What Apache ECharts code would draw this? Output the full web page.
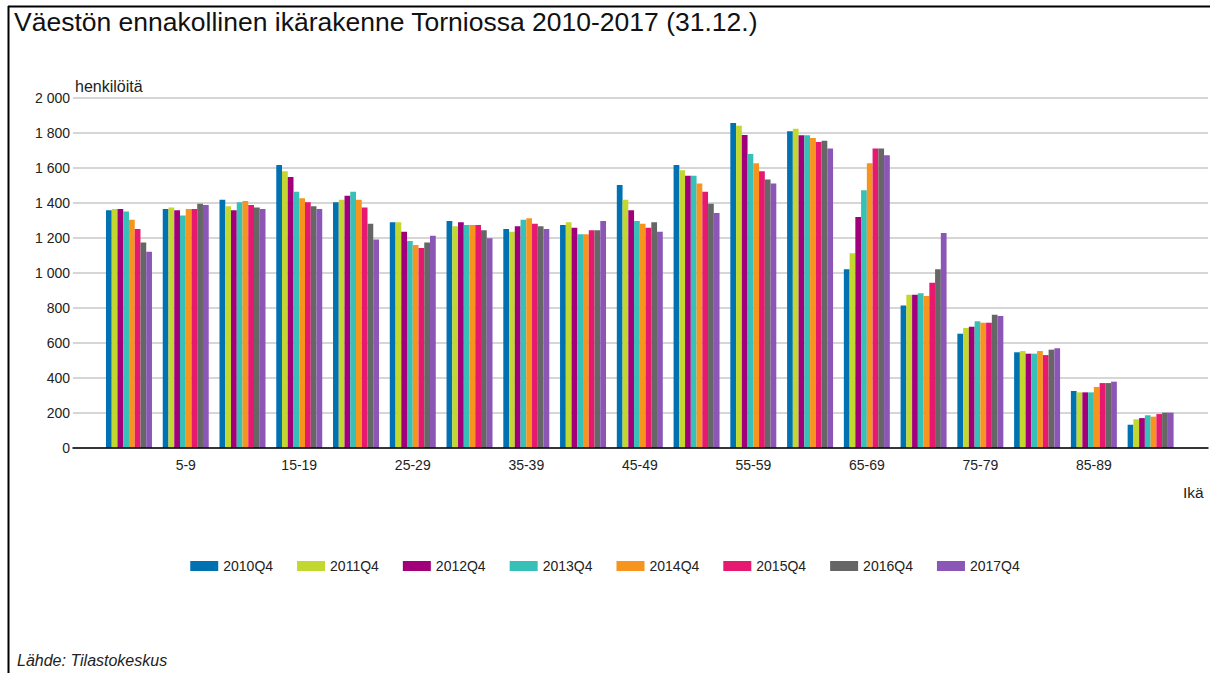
<!DOCTYPE html>
<html><head><meta charset="utf-8">
<script src="https://cdn.jsdelivr.net/npm/echarts@6/dist/echarts.min.js"></script>
<style>html,body{margin:0;padding:0;background:#fff}#c{width:1210px;height:673px}</style>
</head><body><div id="c"></div>
<script>
const ages = ['0-4','5-9','10-14','15-19','20-24','25-29','30-34','35-39','40-44','45-49','50-54','55-59','60-64','65-69','70-74','75-79','80-84','85-89','90-'];
const seriesNames = ['2010Q4','2011Q4','2012Q4','2013Q4','2014Q4','2015Q4','2016Q4','2017Q4'];
const s2010 = [1358,1366,1419,1617,1404,1290,1297,1252,1274,1503,1617,1857,1810,1021,815,653,547,326,133];
const s2011 = [1366,1374,1381,1581,1419,1290,1267,1236,1290,1419,1587,1842,1825,1113,876,686,554,318,164];
const s2012 = [1366,1358,1358,1549,1442,1236,1290,1267,1259,1358,1556,1789,1787,1320,876,693,539,318,171];
const s2013 = [1351,1328,1404,1465,1465,1183,1274,1305,1221,1297,1556,1680,1787,1473,884,724,539,318,187];
const s2014 = [1305,1366,1412,1427,1419,1160,1274,1313,1221,1282,1511,1627,1772,1627,869,716,554,349,179];
const s2015 = [1252,1366,1389,1404,1374,1143,1274,1282,1244,1259,1465,1581,1749,1711,945,716,531,371,194];
const s2016 = [1175,1396,1374,1381,1282,1175,1244,1267,1244,1290,1396,1535,1756,1711,1021,762,562,371,202];
const s2017 = [1122,1389,1366,1366,1191,1213,1198,1252,1297,1236,1343,1511,1711,1673,1229,754,570,379,202];
const values = [s2010,s2011,s2012,s2013,s2014,s2015,s2016,s2017];
const colors = ['#0072b2','#c2d72f','#a2007b','#36c0b7','#f7941d','#e6186f','#666666','#8b56b6'];

const font = '"Liberation Sans", Arial, sans-serif';
const fmt = v => v >= 1000 ? Math.floor(v/1000) + ' ' + String(v % 1000).padStart(3,'0') : String(v);

const chart = echarts.init(document.getElementById('c'), null, {renderer:'svg'});
chart.setOption({
  animation: false,
  color: colors,
  title: {
    text: 'Väestön ennakollinen ikärakenne Torniossa 2010-2017 (31.12.)',
    left: 9, top: 3,
    textStyle: {fontFamily: font, fontSize: 26.5, fontWeight: 'normal', color: '#111'}
  },
  legend: {
    data: seriesNames, left: 'center', top: 554,
    icon: 'rect', itemWidth: 28, itemHeight: 10, itemGap: 24,
    textStyle: {fontFamily: font, fontSize: 14, color: '#222'}
  },
  grid: [
    {left: 73, right: 2, top: 98, bottom: 225},
    {left: 100.6, right: 31, top: 98, bottom: 225}
  ],
  xAxis: [
    {gridIndex: 0, type: 'category', data: [''], axisLine: {lineStyle: {color: '#000', width: 1.5}}, axisTick: {show: false}, axisLabel: {show: false}, z: 5},
    {gridIndex: 1, type: 'category', data: ages, axisLine: {show: false}, axisTick: {show: false},
     axisLabel: {interval: (i) => i % 2 === 1, margin: 10, fontFamily: font, fontSize: 14, color: '#222'}}
  ],
  yAxis: [
    {gridIndex: 0, type: 'value', min: 0, max: 2000, interval: 200,
     axisLine: {show: false}, axisTick: {show: false},
     axisLabel: {formatter: fmt, margin: 3, fontFamily: font, fontSize: 14, color: '#222'},
     splitLine: {lineStyle: {color: '#c8c8c8', width: 1.5}}},
    {gridIndex: 1, type: 'value', min: 0, max: 2000, interval: 200, show: false, splitLine: {show: false}}
  ],
  series: seriesNames.map((n, k) => ({
    name: n, type: 'bar', xAxisIndex: 1, yAxisIndex: 1, data: values[k],
    barGap: '0%', barCategoryGap: '19%'
  })),
  graphic: [
    {type: 'line', shape: {x1: 8, y1: 6.5, x2: 1210, y2: 6.5}, style: {stroke: '#000', lineWidth: 2}},
    {type: 'line', shape: {x1: 8.5, y1: 6, x2: 8.5, y2: 673}, style: {stroke: '#000', lineWidth: 2}},
    {type: 'text', left: 75, top: 78, style: {text: 'henkilöitä', font: '16px ' + font, fill: '#222'}},
    {type: 'text', left: 1183, top: 484, style: {text: 'Ikä', font: '15.5px ' + font, fill: '#222'}},
    {type: 'text', left: 17, top: 652, style: {text: 'Lähde: Tilastokeskus', font: 'italic 16px ' + font, fill: '#222'}}
  ]
});
</script>
</body></html>
